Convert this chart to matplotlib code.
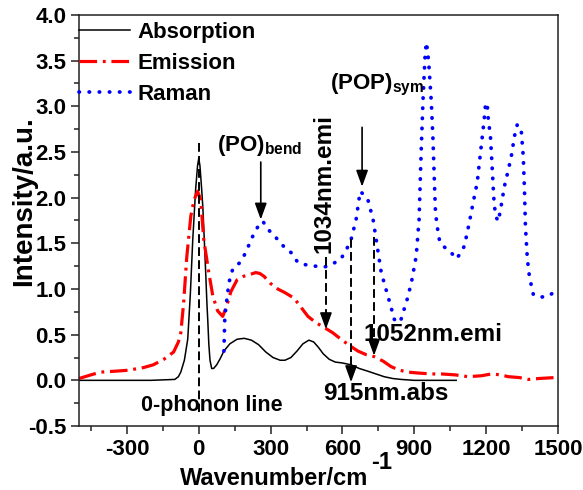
import matplotlib
matplotlib.use('Agg')
import matplotlib.pyplot as plt
from matplotlib.ticker import MultipleLocator

plt.rcParams['font.family'] = ['Liberation Sans', 'DejaVu Sans']
plt.rcParams['font.weight'] = 'bold'
plt.rcParams['axes.unicode_minus'] = False
plt.rcParams['mathtext.fontset'] = 'custom'
plt.rcParams['mathtext.rm'] = 'Liberation Sans'
plt.rcParams['mathtext.bf'] = 'Liberation Sans:bold'

# ---------------- data ----------------
abs_x = [-500, -200, -150, -100, -85, -75, -60, -46, -35, -25, -13, -5, 0, 5, 12, 17, 23, 29, 34, 38,
         42, 47, 54, 62, 75, 90, 105, 130, 160, 190, 220, 250, 280, 310, 340, 360, 385, 410, 435,
         460, 480, 500, 520, 545, 570, 600, 636, 670, 706, 740, 774, 810, 845, 900, 1075]
abs_y = [0.0, 0.0, 0.005, 0.01, 0.04, 0.09, 0.22, 0.45, 0.95, 1.54, 2.09, 2.35, 2.43, 2.35, 2.10, 1.90,
         1.55, 1.18, 0.85, 0.64, 0.40, 0.22, 0.13, 0.13, 0.17, 0.24, 0.32, 0.40, 0.45, 0.46, 0.44,
         0.39, 0.31, 0.25, 0.22, 0.22, 0.25, 0.32, 0.40, 0.44, 0.42, 0.36, 0.29, 0.23, 0.20, 0.19,
         0.17, 0.13, 0.10, 0.07, 0.04, 0.02, 0.01, 0.0, 0.0]

emi_x = [-500, -450, -410, -350, -297, -230, -190, -146, -105, -85, -75, -63, -50, -33, -20, -5, 8,
         21, 42, 59, 79, 100, 115, 134, 160, 188, 215, 238, 255, 272, 300, 330, 360, 398, 427, 456,
         490, 523, 560, 594, 630, 665, 700, 732, 770, 803, 840, 874, 916, 971, 1013, 1070, 1125,
         1180, 1222, 1260, 1293, 1340, 1377, 1420, 1485, 1500]
emi_y = [0.02, 0.06, 0.09, 0.10, 0.11, 0.14, 0.17, 0.23, 0.31, 0.42, 0.52, 0.85, 1.35, 1.80, 1.97, 2.07,
         1.98, 1.54, 1.18, 0.92, 0.76, 0.70, 0.80, 0.97, 1.10, 1.14, 1.16, 1.18, 1.17, 1.14, 1.06,
         1.00, 0.96, 0.90, 0.80, 0.70, 0.63, 0.58, 0.52, 0.45, 0.38, 0.32, 0.28, 0.26, 0.21, 0.15,
         0.11, 0.09, 0.08, 0.07, 0.07, 0.06, 0.04, 0.05, 0.07, 0.06, 0.04, 0.03, 0.01, 0.02, 0.03,
         0.03]

ram_x = [105, 109, 126, 142, 160, 176, 200, 218, 240, 255, 268, 290, 310, 330, 360, 385, 414, 440,
         470, 500, 523, 550, 594, 620, 636, 657, 674, 690, 706, 728, 741, 752, 762, 776, 790, 803,
         816, 830, 845, 860, 874, 890, 908, 920, 929, 937, 945, 950, 956, 962, 971, 978, 983, 988,
         994, 1006, 1020, 1041, 1060, 1075, 1090, 1109, 1130, 1146, 1163, 1172, 1184, 1192, 1198,
         1205, 1209, 1218, 1222, 1226, 1230, 1234, 1243, 1251, 1264, 1276, 1293, 1305, 1318, 1330,
         1340, 1347, 1355, 1360, 1364, 1372, 1381, 1397, 1423, 1460, 1500]
ram_y = [0.32, 0.70, 1.07, 1.22, 1.26, 1.30, 1.42, 1.54, 1.65, 1.72, 1.74, 1.65, 1.60, 1.54, 1.45,
         1.40, 1.29, 1.27, 1.25, 1.25, 1.24, 1.26, 1.33, 1.45, 1.54, 1.76, 2.07, 2.03, 1.98, 1.76,
         1.54, 1.35, 1.18, 1.05, 0.92, 0.80, 0.67, 0.63, 0.67, 0.80, 0.92, 1.10, 1.36, 1.76, 2.53,
         3.11, 3.55, 3.70, 3.60, 3.41, 3.05, 2.64, 2.25, 1.87, 1.71, 1.52, 1.47, 1.43, 1.38, 1.33,
         1.38, 1.47, 1.73, 1.95, 2.17, 2.39, 2.67, 2.86, 3.04, 3.00, 2.86, 2.67, 2.48, 2.29, 2.09,
         1.91, 1.78, 1.74, 1.93, 2.12, 2.31, 2.45, 2.67, 2.80, 2.78, 2.72, 2.45, 2.09, 1.69, 1.33,
         1.13, 0.94, 0.91, 0.92, 1.00]

series_labels = ['Absorption', 'Emission', 'Raman']
x_ticks = [-300, 0, 300, 600, 900, 1200, 1500]

# ---------------- figure ----------------
fig = plt.figure(figsize=(5.83, 4.90), dpi=100)
ax = fig.add_axes([0.1355, 0.1306, 0.8216, 0.8388])

ax.plot(abs_x, abs_y, color='black', lw=1.1, label=series_labels[0])
ax.plot(emi_x, emi_y, color='red', lw=2.3, dashes=(5.5, 1.8, 0.9, 1.8), label=series_labels[1])
ax.plot(ram_x, ram_y, color='blue', lw=2.7, dashes=(0.1, 2.6), dash_capstyle='round',
        label=series_labels[2])

ax.set_xlim(-500, 1500)
ax.set_ylim(-0.5, 4.0)
ax.set_xticks(x_ticks)
ax.xaxis.set_minor_locator(MultipleLocator(150))
ax.yaxis.set_major_locator(MultipleLocator(0.5))
ax.yaxis.set_minor_locator(MultipleLocator(0.25))
ax.yaxis.set_major_formatter(matplotlib.ticker.FormatStrFormatter('%.1f'))
ax.tick_params(which='major', direction='out', length=6, width=1.1, labelsize=16, pad=3,
               top=False, right=False, color='#222222')
ax.tick_params(which='minor', direction='out', length=3.5, width=1.1, top=False, right=False,
               color='#222222')
for lab in ax.get_xticklabels() + ax.get_yticklabels():
    lab.set_fontweight('bold')
for sp in ax.spines.values():
    sp.set_linewidth(1.1)
    sp.set_color('#222222')

leg = ax.legend(loc='upper left', bbox_to_anchor=(0.0, 0.983), frameon=False,
                prop={'size': 16, 'weight': 'bold'}, handlelength=2.3, handletextpad=0.35,
                labelspacing=0.44, borderaxespad=0, borderpad=0)

# axis labels
ax.text(-0.115, 0.547, 'Intensity/a.u.', transform=ax.transAxes, rotation=90,
        ha='center', va='center', fontsize=20, fontweight='bold')
ax.text(0.604, -0.1436, 'Wavenumber/cm', transform=ax.transAxes, ha='right', va='baseline',
        fontsize=17, fontweight='bold')
ax.text(0.6105, -0.105, '-1', transform=ax.transAxes, ha='left', va='baseline',
        fontsize=17, fontweight='bold')

# dashed guide lines
dash_kw = dict(color='black', lw=1.4, dashes=(4.5, 2.2))
ax.plot([0, 0], [2.6, -0.35], **dash_kw)
ax.plot([531, 531], [1.35, 0.68], **dash_kw)
ax.plot([636, 636], [1.55, 0.12], **dash_kw)
ax.plot([732, 732], [1.57, 0.40], **dash_kw)

head = dict(arrowstyle='-|>,head_length=0.55,head_width=0.2', color='black', lw=1.2,
            shrinkA=0, shrinkB=0, mutation_scale=18)
ax.annotate('', xy=(531, 0.56), xytext=(531, 0.70), arrowprops=head)
ax.annotate('', xy=(636, -0.02), xytext=(636, 0.14), arrowprops=head)
ax.annotate('', xy=(732, 0.27), xytext=(732, 0.42), arrowprops=head)
ax.annotate('', xy=(259, 1.76), xytext=(259, 2.39), arrowprops=head)
ax.annotate('', xy=(682, 2.12), xytext=(682, 2.77), arrowprops=head)

# annotation texts
ax.text(78, 2.51, r'(PO)$_{\mathregular{bend}}$', fontsize=16, fontweight='bold', va='baseline')
ax.text(550, 3.19, r'(POP)$_{\mathregular{sym}}$', fontsize=16, fontweight='bold', va='baseline')
ax.text(523, 2.16, '1034nm.emi', rotation=90, ha='center', va='center', fontsize=17.5,
        fontweight='bold')
ax.text(686, 0.43, '1052nm.emi', fontsize=17.5, fontweight='bold', va='baseline')
ax.text(519, -0.21, '915nm.abs', fontsize=17.5, fontweight='bold', va='baseline')
ax.text(-243, -0.34, '0-phonon line', fontsize=15.5, fontweight='bold', va='baseline')

fig.savefig('out.png', dpi=100)
